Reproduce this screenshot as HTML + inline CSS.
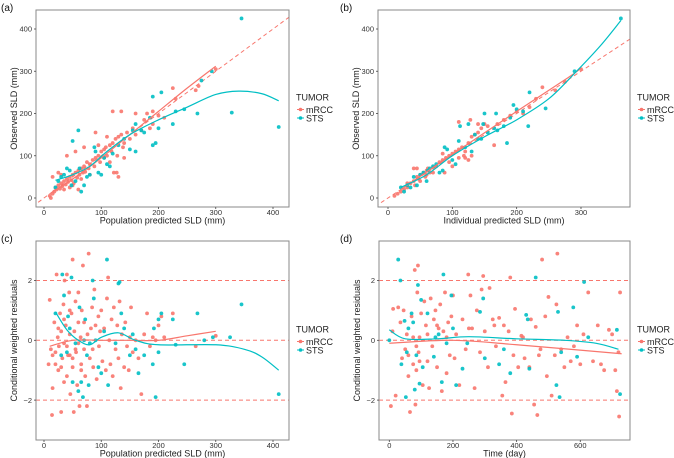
<!DOCTYPE html>
<html><head><meta charset="utf-8"><style>
html,body{margin:0;padding:0;background:#fff;}
svg{display:block;font-family:"Liberation Sans",sans-serif;}
</style></head><body>
<svg id="chart" width="674" height="458" viewBox="0 0 674 458"></svg>
<script>
// ---------- DATA ----------
const aMrcc=[[10,5],[12,0],[15,10],[18,15],[20,25],[22,20],[25,30],[28,22],[30,35],[32,28],[35,40],[38,32],[40,45],[42,38],[45,50],[48,42],[50,55],[52,35],[55,60],[58,48],[60,65],[62,55],[65,70],[68,60],[70,75],[72,62],[75,85],[78,70],[80,80],[85,90],[88,75],[90,95],[95,100],[98,85],[100,110],[105,95],[108,120],[110,100],[115,125],[118,110],[120,130],[122,60],[125,140],[128,100],[130,145],[135,150],[138,120],[140,130],[145,155],[150,140],[155,165],[160,150],[170,160],[175,185],[180,200],[185,165],[190,175],[200,195],[210,190],[225,260],[230,235],[265,255],[270,265],[300,305],[30,55],[40,100],[55,110],[70,120],[90,155],[110,145],[120,205],[135,205],[160,200],[190,205],[15,50],[25,60],[45,25],[60,20],[80,55],[127,60],[130,50],[35,20],[50,30],[65,45],[95,125],[105,115],[115,85],[140,95]];
const aSts=[[20,25],[25,40],[30,50],[35,55],[40,70],[45,65],[48,30],[50,135],[55,40],[60,160],[62,70],[65,15],[70,30],[75,50],[80,55],[88,120],[90,110],[95,60],[100,55],[105,95],[110,80],[115,75],[120,105],[130,125],[140,140],[150,115],[155,160],[160,175],[170,160],[175,155],[190,125],[195,130],[200,165],[205,250],[190,240],[225,175],[230,205],[245,210],[268,200],[275,278],[293,300],[328,202],[345,425],[410,168],[160,110],[185,190]];
const bMrcc=[[10,5],[15,10],[20,15],[25,20],[30,25],[35,35],[40,40],[42,30],[45,50],[48,45],[50,55],[55,60],[58,50],[60,65],[62,70],[65,60],[70,72],[75,75],[80,85],[85,90],[88,60],[90,95],[95,100],[100,105],[105,110],[110,115],[115,120],[118,100],[120,110],[125,130],[128,185],[130,145],[135,150],[140,155],[145,165],[150,175],[155,170],[165,125],[170,175],[180,185],[190,195],[200,205],[210,200],[220,215],[230,235],[240,262],[260,255],[275,275],[300,305],[40,70],[45,70],[60,55],[85,105],[100,75],[120,95],[125,90],[130,100],[140,175],[110,180],[30,35],[50,40],[70,60],[95,85],[110,95]];
const bSts=[[20,25],[25,15],[30,30],[35,25],[40,50],[45,30],[50,55],[55,60],[60,40],[62,65],[65,70],[70,75],[75,80],[80,60],[85,65],[88,120],[92,115],[100,90],[105,80],[110,135],[112,170],[120,120],[125,175],[130,110],[135,150],[140,140],[145,140],[148,175],[150,200],[155,155],[165,165],[168,200],[170,160],[180,170],[185,130],[190,190],[195,220],[200,210],[210,205],[218,170],[220,250],[245,212],[290,300],[362,425]];
const cMrcc=[[8,-0.8],[10,1.35],[12,-0.3],[14,-2.5],[15,-1.6],[18,0.6],[20,-0.4],[22,2.2],[24,0.1],[25,-1.0],[26,-0.2],[28,0.9],[30,-2.4],[30,0.3],[32,-0.6],[34,1.2],[35,-0.1],[36,2.0],[38,0.5],[40,-1.2],[40,2.2],[42,-0.5],[44,1.6],[45,0.2],[46,-1.8],[48,0.9],[50,2.7],[50,-0.9],[52,-2.4],[53,0.3],[55,1.3],[56,-0.4],[58,-1.5],[60,0.6],[60,1.6],[62,-2.2],[64,0.1],[65,-0.8],[66,1.0],[68,2.5],[70,-0.3],[70,0.6],[72,-1.2],[75,-2.2],[76,0.2],[78,2.9],[80,-0.6],[82,0.4],[84,1.1],[86,-0.9],[88,1.7],[90,0.5],[92,-1.3],[95,0.8],[96,-0.2],[98,0.3],[100,1.0],[102,-0.7],[105,0.4],[108,-1.0],[110,1.4],[112,2.1],[114,0.0],[116,-0.8],[118,0.7],[120,-1.2],[122,1.1],[125,-0.3],[128,0.5],[130,-0.6],[132,1.3],[134,-1.6],[136,0.2],[140,-0.9],[142,0.6],[145,-0.2],[148,-1.0],[150,0.1],[152,1.1],[155,-0.4],[160,0.0],[165,-0.6],[170,-1.8],[175,0.2],[180,0.9],[185,-0.2],[190,0.1],[195,0.0],[200,0.5],[205,0.8],[210,0.1],[225,0.9],[265,-0.2],[300,0.15],[20,-0.8],[45,-0.5],[55,-0.3],[35,0.7],[65,-1.0],[85,-0.3],[25,0.4],[40,-0.2],[15,-0.5],[30,-0.9],[50,-0.6],[60,-0.1],[45,1.0],[35,-1.4]];
const cSts=[[20,0.9],[30,-0.5],[32,2.2],[35,1.5],[40,-0.4],[42,0.8],[45,0.4],[48,2.1],[50,-1.4],[55,-0.1],[60,-1.7],[62,1.1],[65,-1.4],[68,-1.9],[70,0.0],[72,0.7],[75,-0.5],[78,-1.5],[80,-0.1],[85,2.0],[87,1.4],[90,0.0],[95,-0.9],[100,-1.1],[105,0.3],[110,2.7],[112,-1.5],[125,-0.1],[130,1.9],[132,1.95],[135,0.9],[140,0.4],[150,-0.5],[155,0.2],[160,-0.3],[165,-1.1],[175,-0.5],[190,-0.8],[192,0.4],[195,-1.9],[200,0.7],[200,-0.4],[205,0.9],[225,0.7],[230,-0.15],[245,-0.8],[268,0.9],[280,0.0],[295,0.1],[325,0.1],[345,1.2],[410,-1.8]];
const dMrcc=[[5,-2.2],[10,0.3],[12,1.05],[20,-1.85],[28,1.1],[35,0.6],[40,-0.6],[45,1.0],[50,-0.3],[55,0.2],[60,-1.2],[65,-2.4],[70,0.8],[75,-0.8],[80,2.35],[82,-2.15],[85,-1.0],[88,1.6],[90,2.5],[92,-0.4],[95,0.1],[100,0.9],[105,-1.5],[110,1.3],[115,0.5],[120,-0.7],[125,-1.6],[130,1.4],[135,-0.2],[140,0.7],[145,1.0],[150,-0.9],[155,0.4],[160,1.2],[165,-1.7],[170,0.3],[175,1.6],[180,-1.1],[185,0.6],[190,-0.5],[195,0.8],[200,1.5],[205,-0.6],[210,0.2],[220,-1.5],[230,0.7],[240,-0.3],[248,2.2],[255,1.5],[260,0.4],[268,-1.6],[275,1.0],[285,-0.4],[290,1.7],[295,2.15],[300,0.3],[310,-0.9],[315,1.75],[325,0.7],[335,-0.2],[345,0.75],[355,-1.85],[360,0.5],[365,-1.4],[375,0.3],[380,2.1],[385,-2.45],[390,-0.5],[395,1.05],[405,-0.9],[415,0.15],[425,-0.6],[440,-0.9],[445,0.7],[455,-2.15],[460,0.45],[465,-2.5],[475,-0.3],[480,2.7],[490,0.8],[495,-1.2],[500,1.45],[510,-1.85],[520,-0.5],[525,1.2],[528,2.9],[540,-0.3],[550,-0.9],[560,0.1],[570,-0.7],[580,-0.2],[590,0.5],[600,-0.8],[610,0.2],[625,1.6],[640,-0.7],[655,0.5],[665,-0.8],[675,-1.0],[690,0.35],[700,0.2],[710,-1.0],[715,-1.7],[720,-0.4],[725,1.6],[722,-2.55],[60,-0.5],[75,0.1],[85,-0.2],[95,-0.7],[120,0.2],[150,0.5],[180,0.1],[250,0.4],[330,0.5],[420,0.1],[470,-0.5]];
const dSts=[[0,0.0],[28,2.7],[35,2.0],[38,-0.8],[48,0.65],[52,-1.9],[55,-0.4],[60,0.4],[70,0.9],[75,0.6],[80,-1.65],[85,-0.5],[90,1.85],[95,-1.45],[100,1.35],[105,-0.9],[120,0.9],[140,-0.55],[145,0.1],[155,0.2],[165,-1.4],[170,2.2],[180,-0.1],[195,1.5],[200,0.4],[210,-1.5],[230,-0.95],[245,-0.1],[285,0.95],[295,1.4],[300,-0.6],[345,-0.8],[360,-0.3],[380,-1.1],[430,0.85],[435,0.7],[440,-0.95],[460,2.1],[525,-1.5],[530,0.95],[535,-1.9],[540,-0.4],[578,1.1],[590,-0.55],[612,1.95],[625,0.1],[715,0.35],[725,-1.8]];
const aMrccFit=[[15,15],[50,45],[100,95],[150,150],[200,205],[250,260],[300,312]];
const aStsFit=[[20,42],[50,55],[80,75],[110,110],[150,150],[200,185],[250,215],[300,245],[340,253],[380,247],[410,230]];
const bMrccFit=[[20,20],[100,103],[200,205],[280,285],[300,307]];
const bStsFit=[[20,25],[60,55],[100,100],[150,145],[200,185],[250,235],[290,295],[330,360],[362,420]];
const cMrccFit=[[10,-0.2],[50,0],[100,0],[150,0],[200,0],[250,0.15],[300,0.3]];
const cStsFit=[[20,0.95],[40,0.35],[60,0],[80,-0.15],[100,0.1],[130,0.25],[160,0],[200,-0.15],[300,-0.15],[350,-0.3],[380,-0.55],[410,-1.0]];
const dMrccFit=[[0,-0.1],[200,0],[400,-0.15],[730,-0.45]];
const dStsFit=[[0,0.35],[50,0.05],[150,0.05],[250,0.12],[400,0.05],[550,0],[650,-0.1],[720,-0.3]];
const xTicksAB=[0,100,200,300,400];
const xTicksB=[0,100,200,300];
const xTicksD=[0,200,400,600];
const yTicksObs=[0,100,200,300,400];
const yTicksRes=[-2,0,2];
const refLinesRes=[-2,0,2];

// ---------- RENDER ----------
const NS='http://www.w3.org/2000/svg';
const svg=document.getElementById('chart');
const RED='#F8766D', CYAN='#00BFC4';
function mk(tag,attrs,parent){const e=document.createElementNS(NS,tag);for(const k in attrs)e.setAttribute(k,attrs[k]);(parent||svg).appendChild(e);return e;}
function smooth(arr,sx,sy){
  const P=arr.map(d=>[sx(d[0]),sy(d[1])]);
  let s='M'+P[0][0]+','+P[0][1];
  for(let i=0;i<P.length-1;i++){
    const p0=P[Math.max(0,i-1)],p1=P[i],p2=P[i+1],p3=P[Math.min(P.length-1,i+2)];
    const c1=[p1[0]+(p2[0]-p0[0])/6,p1[1]+(p2[1]-p0[1])/6];
    const c2=[p2[0]-(p3[0]-p1[0])/6,p2[1]-(p3[1]-p1[1])/6];
    s+=' C'+c1[0]+','+c1[1]+' '+c2[0]+','+c2[1]+' '+p2[0]+','+p2[1];
  }
  return s;
}
function panel(p){
  const g=mk('g',{});
  
  
  const sx=v=>p.x0+(v-p.xd0)*p.kx;
  const sy=v=>p.y0-(v-p.yd0)*p.ky;
  const clip=mk('clipPath',{id:'clip'+p.id},g);
  mk('rect',{x:p.bx,y:p.by,width:p.bw,height:p.bh},clip);
  const dashG=mk('g',{'clip-path':'url(#clip'+p.id+')'},g);
  if(p.identity){
    const l=mk('line',{x1:sx(p.identity[0]),y1:sy(p.identity[0]),x2:sx(p.identity[1]),y2:sy(p.identity[1]),stroke:RED,'stroke-width':1,'stroke-dasharray':'4,3'},dashG);
    
    
  }
  if(p.hlines){p.hlines.forEach(v=>{
    const l=mk('line',{x1:p.bx,x2:p.bx+p.bw,y1:sy(v),y2:sy(v),stroke:RED,'stroke-width':1,'stroke-dasharray':'4,3'},dashG);
    
    
  });}
  [[p.mrcc,RED,'mrcc'],[p.sts,CYAN,'sts']].forEach(([arr,col,nm])=>{
    arr.forEach(d=>{
      const c=mk('circle',{cx:sx(d[0]),cy:sy(d[1]),r:1.9,fill:col,'fill-opacity':0.9},g);
      
      
    });
  });
  [[p.mrccFit,RED,'mrcc'],[p.stsFit,CYAN,'sts']].forEach(([arr,col,nm])=>{
    const pth=mk('path',{d:smooth(arr,sx,sy),fill:'none',stroke:col,'stroke-width':1.2},g);
    
    
  });
  const fr=mk('rect',{x:p.bx,y:p.by,width:p.bw,height:p.bh,fill:'none',stroke:'#8a8a8a','stroke-width':1},g);
  
  
  p.xt.forEach(v=>{
    mk('line',{x1:sx(v),x2:sx(v),y1:p.by+p.bh,y2:p.by+p.bh+2,stroke:'#444','stroke-width':0.8},g);
    const t=mk('text',{x:sx(v),y:p.by+p.bh+8,'font-size':7.5,fill:'#333','text-anchor':'middle'},g);
    t.textContent=v;
    
    
  });
  p.yt.forEach(v=>{
    mk('line',{x1:p.bx-2,x2:p.bx,y1:sy(v),y2:sy(v),stroke:'#444','stroke-width':0.8},g);
    const t=mk('text',{x:p.bx-4,y:sy(v)+2.7,'font-size':7.5,fill:'#333','text-anchor':'end'},g);
    t.textContent=v<0?'\u2212'+(-v):v;
    
    
  });
  const xt=mk('text',{x:p.bx+p.bw/2,y:p.by+p.bh+16.5,'font-size':9,fill:'#222','text-anchor':'middle'},g);
  xt.textContent=p.xlab;
  
  
  const yx=p.bx-19, yy=p.by+p.bh/2;
  const yt=mk('text',{x:yx,y:yy,'font-size':9,fill:'#222','text-anchor':'middle',transform:'rotate(-90 '+yx+' '+yy+')'},g);
  yt.textContent=p.ylab;
  
  
  const pl=mk('text',{x:p.lx,y:p.by+1,'font-size':10,fill:'#111'},g);
  pl.textContent=p.label;
  
  
  const lg=mk('g',{},g);
  
  
  const L=p.bx+p.bw+7, T=p.by+p.bh/2-8;
  const tt=mk('text',{x:L,y:T,'font-size':9,fill:'#222'},lg);
  tt.textContent='TUMOR';
  
  
  [['mRCC',RED],['STS',CYAN]].forEach(([nm,col],i)=>{
    const cy=T+9+i*8.5;
    const e=mk('g',{},lg);
    
    
    mk('line',{x1:L+1,x2:L+8,y1:cy,y2:cy,stroke:col,'stroke-width':1},e);
    mk('circle',{cx:L+4.5,cy:cy,r:1.8,fill:col},e);
    const t=mk('text',{x:L+10,y:cy+3.3,'font-size':9,fill:'#222'},e);
    t.textContent=nm;
  });
}
panel({id:'a',label:'(a)',lx:1,bx:36,by:10,bw:253,bh:197,x0:44,xd0:0,kx:0.5725,y0:198,yd0:0,ky:0.4225,
  mrcc:aMrcc,sts:aSts,mrccFit:aMrccFit,stsFit:aStsFit,identity:[-20,440],xt:xTicksAB,yt:yTicksObs,
  xlab:'Population predicted SLD (mm)',ylab:'Observed SLD (mm)'});
panel({id:'b',label:'(b)',lx:340,bx:378,by:10,bw:252,bh:197,x0:388,xd0:0,kx:0.6433,y0:198,yd0:0,ky:0.4225,
  mrcc:bMrcc,sts:bSts,mrccFit:bMrccFit,stsFit:bStsFit,identity:[-20,400],xt:xTicksB,yt:yTicksObs,
  xlab:'Individual predicted SLD (mm)',ylab:'Observed SLD (mm)'});
panel({id:'c',label:'(c)',lx:1,bx:36,by:241,bw:253,bh:199,x0:44,xd0:0,kx:0.5725,y0:340.3,yd0:0,ky:29.9,
  mrcc:cMrcc,sts:cSts,mrccFit:cMrccFit,stsFit:cStsFit,hlines:refLinesRes,xt:xTicksAB,yt:yTicksRes,
  xlab:'Population predicted SLD (mm)',ylab:'Conditional weighted residuals'});
panel({id:'d',label:'(d)',lx:340,bx:379,by:241,bw:251,bh:199,x0:389.3,xd0:0,kx:0.3183,y0:340.3,yd0:0,ky:29.9,
  mrcc:dMrcc,sts:dSts,mrccFit:dMrccFit,stsFit:dStsFit,hlines:refLinesRes,xt:xTicksD,yt:yTicksRes,
  xlab:'Time (day)',ylab:'Conditional weighted residuals'});
</script>
</body></html>
